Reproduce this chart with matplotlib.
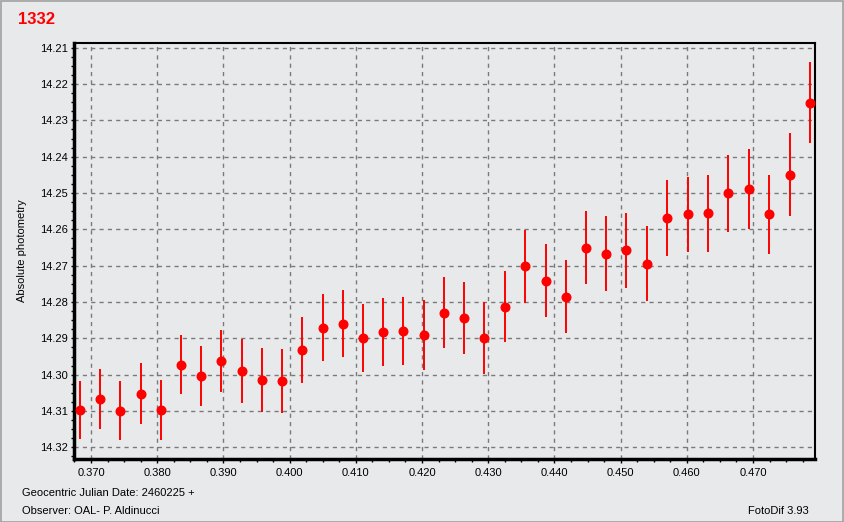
import matplotlib
matplotlib.use("Agg")
import matplotlib.pyplot as plt
from matplotlib.ticker import MultipleLocator, FormatStrFormatter
from matplotlib.patches import Rectangle

# data (JD - 2460225, magnitude, error)
jd = [0.36834, 0.37136, 0.37438, 0.37750, 0.38057, 0.38359, 0.38661, 0.38968,
      0.39275, 0.39582, 0.39884, 0.40191, 0.40499, 0.40805, 0.41107, 0.41409,
      0.41711, 0.42028, 0.42325, 0.42627, 0.42934, 0.43251, 0.43553, 0.43870,
      0.44172, 0.44474, 0.44776, 0.45088, 0.45395, 0.45697, 0.46014, 0.46316,
      0.46628, 0.46935, 0.47237, 0.47554, 0.47856]
mag = [14.3097, 14.3067, 14.3099, 14.3052, 14.3097, 14.2972, 14.3004, 14.2962,
       14.2990, 14.3015, 14.3017, 14.2932, 14.2871, 14.2860, 14.2899, 14.2882,
       14.2879, 14.2890, 14.2829, 14.2843, 14.2899, 14.2813, 14.2702, 14.2741,
       14.2785, 14.2650, 14.2667, 14.2658, 14.2694, 14.2568, 14.2559, 14.2556,
       14.2501, 14.2488, 14.2559, 14.2449, 14.2251]
err = [0.0079, 0.0082, 0.0082, 0.0085, 0.0082, 0.0081, 0.0083, 0.0085,
       0.0087, 0.0088, 0.0089, 0.0090, 0.0092, 0.0092, 0.0094, 0.0094,
       0.0094, 0.0096, 0.0097, 0.0099, 0.0099, 0.0098, 0.0100, 0.0100,
       0.0101, 0.0100, 0.0103, 0.0104, 0.0103, 0.0104, 0.0104, 0.0106,
       0.0106, 0.0110, 0.0110, 0.0113, 0.0112]

bg = "#e8e9eb"
plt.rcParams["font.family"] = ["Liberation Sans", "DejaVu Sans"]

W, H = 844, 522
fig = plt.figure(figsize=(W / 100, H / 100), dpi=100, facecolor=bg)
fig.patches.append(Rectangle((0.5 / W, 0.5 / H), 1 - 1.5 / W, 1 - 1.5 / H,
                             transform=fig.transFigure, fill=False,
                             edgecolor="#a0a0a0", lw=1.2))
ax = fig.add_axes([74 / W, 1 - 459 / H, (815 - 74) / W, (459 - 43) / H])
ax.set_facecolor(bg)

ax.errorbar(jd, mag, yerr=err, fmt="o", color="red", ecolor="red",
            elinewidth=1.4, markersize=6.2, capsize=0, zorder=3)

ax.set_xlim(0.36743, 0.47936)
ax.set_ylim(14.3232, 14.2087)
ax.xaxis.set_major_locator(MultipleLocator(0.01))
ax.xaxis.set_minor_locator(MultipleLocator(0.0025))
ax.yaxis.set_major_locator(MultipleLocator(0.01))
ax.yaxis.set_minor_locator(MultipleLocator(0.0025))
ax.xaxis.set_major_formatter(FormatStrFormatter("%.3f"))
ax.yaxis.set_major_formatter(FormatStrFormatter("%.2f"))
ax.tick_params(axis="x", which="major", direction="out", length=3, width=1,
               labelsize=8, pad=3.5)
ax.tick_params(axis="y", which="major", direction="out", length=2.5, width=1,
               labelsize=8, pad=2)
ax.tick_params(which="minor", direction="out", length=2.5, width=1)
ax.grid(True, which="major", linestyle=(0, (3, 3)), color="#7a7a7a", lw=1)

for side in ["top", "right"]:
    ax.spines[side].set_linewidth(1.5)
for side in ["left", "bottom"]:
    ax.spines[side].set_linewidth(2.5)

fig.text(18 / W, 1 - 19 / H, "1332", color="red", fontsize=12, fontweight="bold",
         va="center", ha="left")
fig.text(22 / W, 1 - 251 / H, "Absolute photometry", rotation=90, fontsize=8,
         va="center", ha="center")
fig.text(22 / W, 1 - 493 / H, "Geocentric Julian Date: 2460225 +", fontsize=8,
         va="center", ha="left")
fig.text(22 / W, 1 - 511 / H, "Observer: OAL- P. Aldinucci", fontsize=8,
         va="center", ha="left")
fig.text(809 / W, 1 - 511 / H, "FotoDif 3.93", fontsize=8,
         va="center", ha="right")

fig.savefig("out.png", dpi=100, facecolor=bg)
